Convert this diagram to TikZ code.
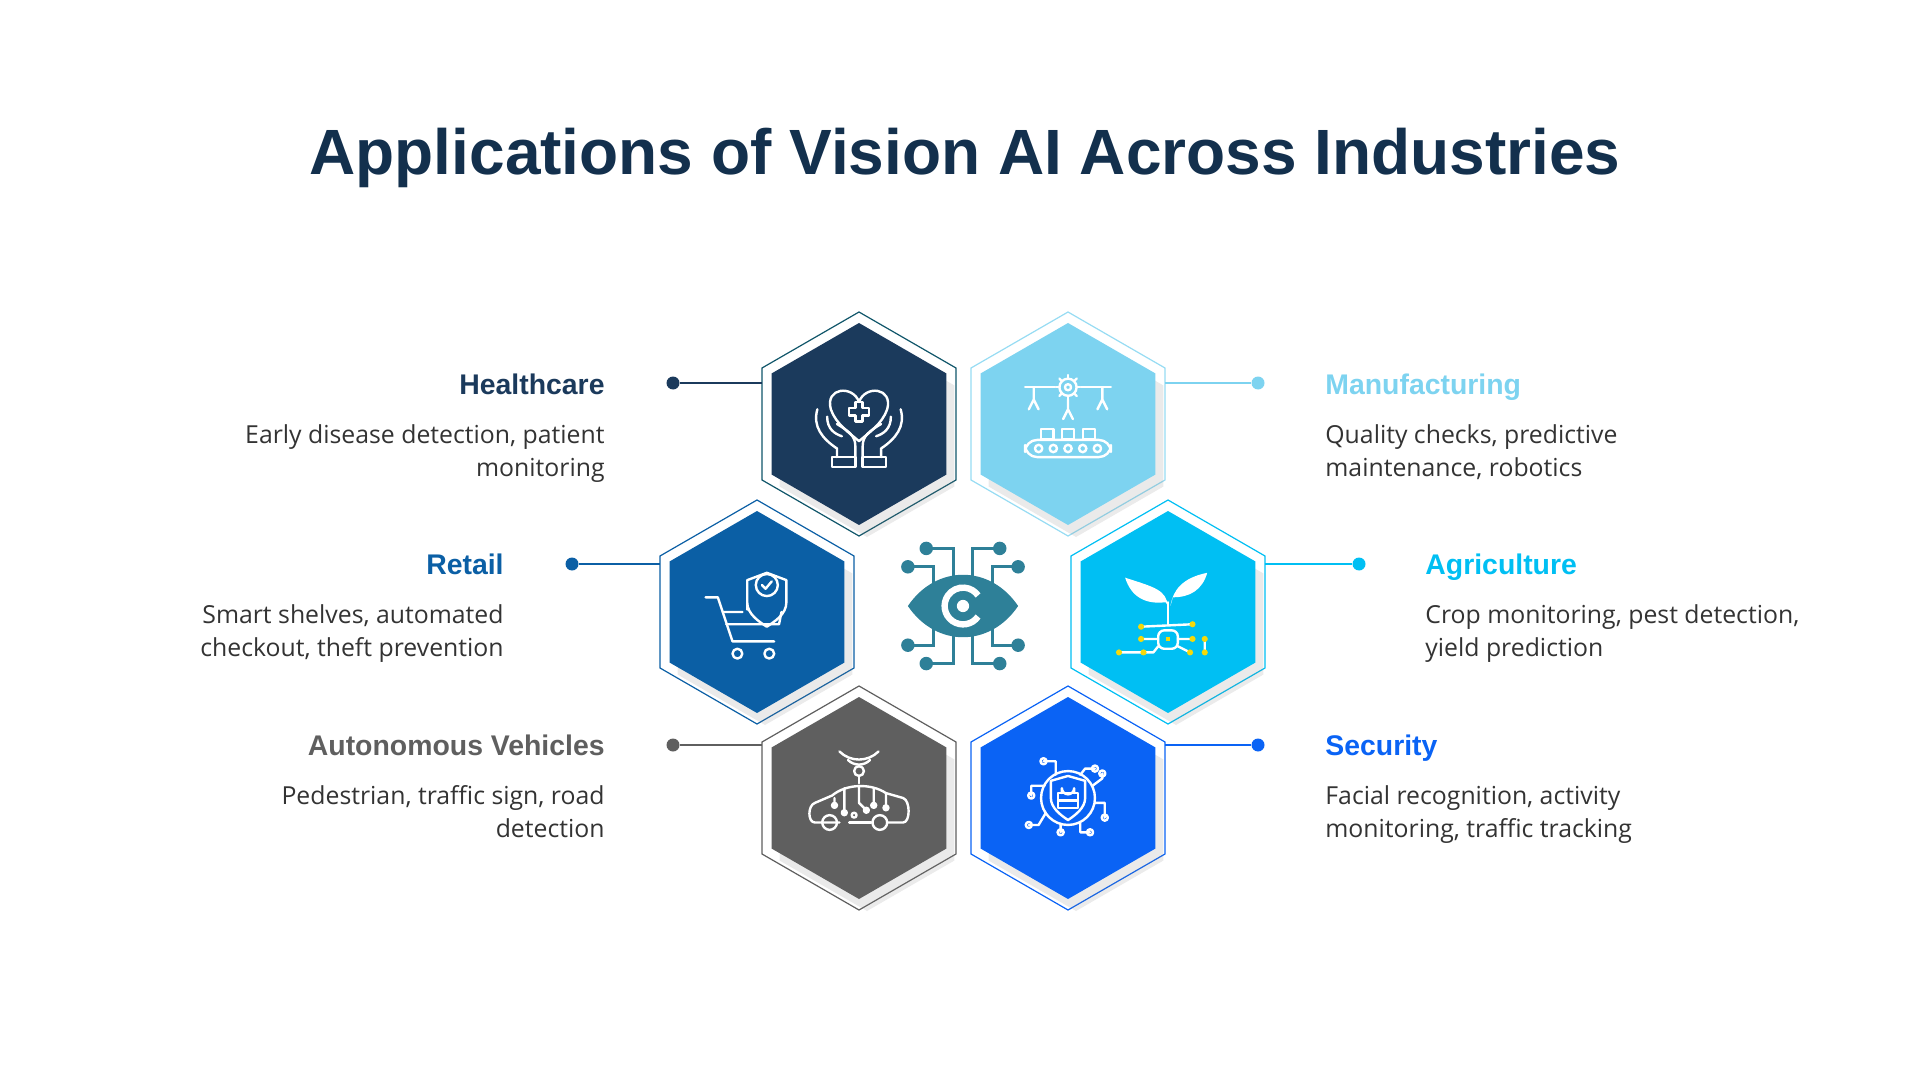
\documentclass[tikz,border=0pt]{standalone}
\usepackage{fontspec}
\setmainfont{Liberation Sans}
\newfontfamily\descfont{Open Sans}
\usetikzlibrary{shapes.geometric,shadows}
\definecolor{navy}{HTML}{13304D}
\definecolor{chealth}{HTML}{1B3A5C}
\definecolor{cmanu}{HTML}{7DD3F0}
\definecolor{cretail}{HTML}{0B5FA5}
\definecolor{cagri}{HTML}{00BFF3}
\definecolor{cauto}{HTML}{5F5F5F}
\definecolor{csec}{HTML}{0A63F5}
\definecolor{ceye}{HTML}{2E8098}
\definecolor{cdesc}{HTML}{333333}
\definecolor{cyel}{HTML}{F5D90A}
\tikzset{
  hexout/.style={regular polygon, regular polygon sides=6, shape border rotate=30, minimum size=112pt, inner sep=0pt, outer sep=0pt, draw=#1, line width=0.6pt, fill=white},
  hexin/.style={regular polygon, regular polygon sides=6, shape border rotate=30, minimum size=101pt, inner sep=0pt, fill=#1, drop shadow={opacity=0.16, shadow xshift=4pt, shadow yshift=-6pt}},
  dotnode/.style={circle, fill=#1, minimum size=6.5pt, inner sep=0pt},
  conn/.style={draw=#1, line width=0.7pt},
  head/.style={font=\bfseries\fontsize{14.2}{17}\selectfont, text=#1, inner sep=0pt},
  desc/.style={font=\descfont\fontsize{12.4}{16.5}\selectfont, text=cdesc, inner sep=0pt},
  ic/.style={draw=white, line width=1.2pt, line cap=round, line join=round},
  eyeline/.style={draw=ceye, line width=1.6pt},
}
\begin{document}
\begin{tikzpicture}[x=0.5pt,y=-0.5pt]
\useasboundingbox (0,0) rectangle (1920,1080);
\node[font=\bfseries\fontsize{32}{38}\selectfont, text=navy] (title) at (965,158) {Applications of Vision AI Across Industries};

% hexagons
\node[hexout=chealth!60!teal] (hH) at (859,424) {};
\node[hexout=cmanu!80!white] (hM) at (1068,424) {};
\node[hexout=cretail] (hR) at (757,612) {};
\node[hexout=cagri] (hA) at (1168,612) {};
\node[hexout=cauto] (hV) at (859,798) {};
\node[hexout=csec] (hS) at (1068,798) {};
\node[hexin=chealth] (iH) at (hH) {};
\node[hexin=cmanu] (iM) at (hM) {};
\node[hexin=cretail] (iR) at (hR) {};
\node[hexin=cagri] (iA) at (hA) {};
\node[hexin=cauto] (iV) at (hV) {};
\node[hexin=csec] (iS) at (hS) {};

% connectors
\node[dotnode=chealth] (dH) at (673,383) {};
\node[dotnode=cmanu] (dM) at (1258,383) {};
\node[dotnode=cretail] (dR) at (572,564) {};
\node[dotnode=cagri] (dA) at (1359,564) {};
\node[dotnode=cauto] (dV) at (673,745) {};
\node[dotnode=csec] (dS) at (1258,745) {};
\draw[conn=chealth] (dH) -- (dH -| hH.west);
\draw[conn=cmanu] (dM) -- (dM -| hM.east);
\draw[conn=cretail] (dR) -- (dR -| hR.west);
\draw[conn=cagri] (dA) -- (dA -| hA.east);
\draw[conn=cauto] (dV) -- (dV -| hV.west);
\draw[conn=csec] (dS) -- (dS -| hS.east);

% texts
\node[head=chealth, anchor=base east] (tH) at (605,394) {Healthcare};
\node[desc, anchor=north east, align=right] (eH) at (605,424) {Early disease detection, patient\\monitoring};
\node[head=cmanu, anchor=base west] (tM) at (1325,394) {Manufacturing};
\node[desc, anchor=north west, align=left] (eM) at (1325,424) {Quality checks, predictive\\maintenance, robotics};
\node[head=cretail, anchor=base east] (tR) at (504,574) {Retail};
\node[desc, anchor=north east, align=right] (eR) at (504,604) {Smart shelves, automated\\checkout, theft prevention};
\node[head=cagri, anchor=base west] (tA) at (1425,574) {Agriculture};
\node[desc, anchor=north west, align=left] (eA) at (1425,604) {Crop monitoring, pest detection,\\yield prediction};
\node[head=cauto, anchor=base east] (tV) at (605,755) {Autonomous Vehicles};
\node[desc, anchor=north east, align=right] (eV) at (605,785) {Pedestrian, traffic sign, road\\detection};
\node[head=csec, anchor=base west] (tS) at (1325,755) {Security};
\node[desc, anchor=north west, align=left] (eS) at (1325,785) {Facial recognition, activity\\monitoring, traffic tracking};

% ---- icon: healthcare
\begin{scope}[shift={(859,424)},scale=1.225]
\draw[ic] (0,-18) .. controls (-5,-32) and (-28,-30) .. (-23,-12) .. controls (-19,0) and (-7,8) .. (0,14) .. controls (7,8) and (19,0) .. (23,-12) .. controls (28,-30) and (5,-32) .. (0,-18);
\draw[ic] (-3,-18) -- (3,-18) -- (3,-13) -- (8,-13) -- (8,-7) -- (3,-7) -- (3,-2) -- (-3,-2) -- (-3,-7) -- (-8,-7) -- (-8,-13) -- (-3,-13) -- cycle;
\draw[ic] (-34,-12) .. controls (-38,2) and (-30,12) .. (-18,20) -- (-18,27);
\draw[ic] (-26,-6) .. controls (-26,4) and (-20,8) .. (-14,10);
\draw[ic] (-22,27) rectangle (-3,35);
\draw[ic] (-3,27) -- (-3,18) .. controls (-3,10) and (-8,6) .. (-18,0);
\draw[ic] (34,-12) .. controls (38,2) and (30,12) .. (18,20) -- (18,27);
\draw[ic] (26,-6) .. controls (26,4) and (20,8) .. (14,10);
\draw[ic] (3,27) rectangle (22,35);
\draw[ic] (3,27) -- (3,18) .. controls (3,10) and (8,6) .. (18,0);
\end{scope}

% ---- icon: manufacturing
\begin{scope}[shift={(1068,424)},scale=1.225]
\draw[ic] (-35,-30) -- (-11,-30) (11,-30) -- (35,-30);
\draw[ic] (0,-30) circle (7);
\foreach \a in {0,45,...,315} \draw[ic] (0,-30) ++(\a:7) -- ++(\a:3);
\draw[ic] (0,-30) circle (2.5);
\draw[ic] (-28,-30) -- (-28,-20) (-32,-12) -- (-28,-20) -- (-24,-12);
\draw[ic] (0,-20) -- (0,-12) (-4,-4) -- (0,-12) -- (4,-4);
\draw[ic] (28,-30) -- (28,-20) (24,-12) -- (28,-20) -- (32,-12);
\draw[ic] (-22,4) rectangle (-12,12) (-5,4) rectangle (5,12) (12,4) rectangle (22,12);
\draw[ic,rounded corners=6] (-35,13) rectangle (35,27);
\foreach \x in {-24,-12,0,12,24} \draw[ic] (\x,20) circle (3);
\end{scope}

% ---- icon: retail
\begin{scope}[shift={(757,612)},scale=1.225]
\draw[ic] (-42,-12) -- (-32,-12) -- (-20,24) -- (14,24);
\draw[ic] (-28,0) -- (-12,0) (-25,10) -- (18,10) -- (20,0);
\draw[ic] (-16,34) circle (4) (10,34) circle (4);
\draw[ic] (-8,-2) -- (-8,-26) -- (8,-32) -- (24,-26) -- (24,-8) .. controls (24,2) and (14,8) .. (8,12) .. controls (2,8) and (-8,2) .. (-8,-8);
\draw[ic] (8,-22) circle (9);
\draw[ic] (4,-22) -- (7,-19) -- (12,-25);
\end{scope}

% ---- icon: agriculture
\begin{scope}[shift={(1168,612)},scale=1.225]
\fill[white] (0,-5) .. controls (-2,-18) and (-10,-20) .. (-35,-28) .. controls (-30,-12) and (-18,-6) .. (-2,-8) -- cycle;
\fill[white] (2,-5) .. controls (4,-18) and (12,-28) .. (32,-32) .. controls (28,-18) and (18,-12) .. (4,-12) -- cycle;
\draw[ic] (0,-8) -- (0,10);
\draw[ic,rounded corners=3] (-22,12) -- (20,10) (-8,15) rectangle (8,30);
\draw[ic] (-8,22) -- (-22,22) (-40,33) -- (-12,33) -- (-8,28) (8,22) -- (20,22) (8,28) -- (18,33) (30,22) -- (30,33);
\foreach \p in {(-22,12),(-22,22),(-40,33),(-20,33),(20,10),(20,22),(18,33),(30,22),(30,33)} \fill[cyel] \p circle (2.5);
\fill[cyel] (-2,20) rectangle (2,24);
\end{scope}

% ---- icon: autonomous vehicle
\begin{scope}[shift={(859,798)},scale=1.225]
\draw[ic] (0,-22) circle (4);
\draw[ic] (-9,-31) arc (135:45:12.7);
\draw[ic] (-16,-38) arc (135:45:22.6);
\draw[ic] (0,-18) -- (0,-12);
\draw[ic] (-16,20) -- (-36,20) .. controls (-42,20) and (-42,6) .. (-36,4) -- (-22,-2) .. controls (-10,-12) and (10,-12) .. (22,-4) -- (36,0) .. controls (42,2) and (42,20) .. (36,20) -- (24,20);
\draw[ic] (-24,20) circle (6) (17,20) circle (6);
\draw[ic] (-8,20) -- (10,20);
\draw[ic] (-12,-8) -- (-12,12) (0,-10) -- (0,4) -- (6,10) (12,-8) -- (12,6) (-20,0) -- (-20,6) (22,-4) -- (22,8) (-4,14) circle (2) (-12,12) circle (2) (6,10) circle (2) (12,6) circle (2) (-20,6) circle (2) (22,8) circle (2);
\end{scope}

% ---- icon: security
\begin{scope}[shift={(1068,798)},scale=1.225]
\draw[ic] (0,0) circle (22);
\draw[ic] (-14,-14) -- (0,-18) -- (14,-14) -- (14,0) .. controls (14,8) and (6,14) .. (0,18) .. controls (-6,14) and (-14,8) .. (-14,0) -- cycle;
\draw[ic] (-8,-4) rectangle (8,8);
\draw[ic] (-5,-4) -- (-5,-8) arc (180:0:5) -- (5,-4);
\draw[ic] (-8,2) -- (8,2);
\draw[ic] (-10,-19) -- (-10,-30) -- (-20,-30) (-19,-10) -- (-30,-10) -- (-30,-2) (-18,12) -- (-24,22) -- (-32,22) (-6,21) -- (-6,28) (10,-19) -- (14,-24) -- (22,-24) (20,-10) -- (28,-16) -- (28,-20) (22,4) -- (30,4) -- (30,16) (10,20) -- (10,28) -- (18,28);
\foreach \p in {(-20,-30),(-30,-2),(-32,22),(-6,28),(22,-24),(28,-20),(30,16),(18,28)} \draw[ic] \p circle (2.5);
\end{scope}

% ---- center eye
\begin{scope}[shift={(963,606)},scale=1.225]
\fill[ceye] (-45,0) .. controls (-22,-34) and (22,-34) .. (45,0) .. controls (22,34) and (-22,34) .. (-45,0) -- cycle;
\draw[white, line width=3.2pt] (35:15) arc (35:325:15);
\fill[white] (0,0) circle (5);
\foreach \sy in {1,-1}{
  \foreach \sx in {1,-1}{
    \draw[eyeline] (\sx*8,\sy*-24) -- (\sx*8,\sy*-47) -- (\sx*28,\sy*-47);
    \fill[ceye] (\sx*30,\sy*-47) circle (5.5);
    \draw[eyeline] (\sx*24,\sy*-18) -- (\sx*24,\sy*-32) -- (\sx*42,\sy*-32);
    \fill[ceye] (\sx*45,\sy*-32) circle (5.5);
  }
}
\end{scope}
\end{tikzpicture}
\end{document}
